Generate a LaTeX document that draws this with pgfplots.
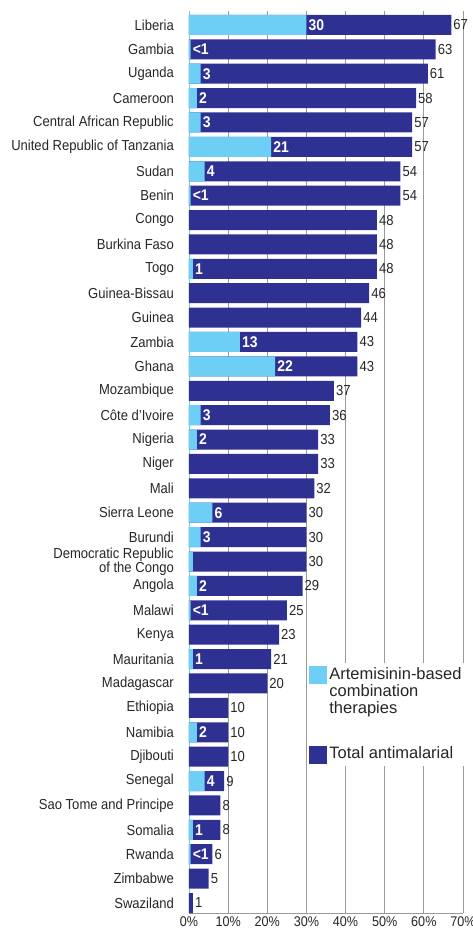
\documentclass[border=0pt]{standalone}
\usepackage{pgfplots}
\pgfplotsset{compat=1.18}
\usepackage{pgfplotstable}
\usepackage{fontspec}
\setmainfont{Liberation Sans}[FakeStretch=0.9]
\newfontfamily\legfont{Liberation Sans}

\definecolor{actblue}{HTML}{6DCFF6}
\definecolor{navy}{HTML}{2E3192}
\definecolor{txt}{HTML}{262626}
\definecolor{gridgray}{HTML}{9A9A9A}

\pgfplotsset{sqlegend/.style={legend image code/.code={\fill[##1] (0pt,-19pt) rectangle (18pt,-1pt);}}}

% pos = row (0 = top), total = all antimalarials, act = ACT share (%)
\pgfplotstableread{
pos total act
0 67 30
1 63 0.4
2 61 3
3 58 2
4 57 3
5 57 21
6 54 4
7 54 0.4
8 48 0
9 48 0
10 48 1
11 46 0
12 44 0
13 43 13
14 43 22
15 37 0
16 36 3
17 33 2
18 33 0
19 32 0
20 30 6
21 30 3
22 30 1
23 29 2
24 25 0.4
25 23 0
26 21 1
27 20 0
28 10 0
29 10 2
30 10 0
31 9 4
32 8 0
33 8 1
34 6 0.4
35 5 0
36 1 0
}\datatable

% printed ACT labels
\pgfplotstableread{
pos act lab
0 30 30
1 0.4 <1
2 3 3
3 2 2
4 3 3
5 21 21
6 4 4
7 0.4 <1
10 1 1
13 13 13
14 22 22
16 3 3
17 2 2
20 6 6
21 3 3
23 2 2
24 0.4 <1
26 1 1
29 2 2
31 4 4
33 1 1
34 0.4 <1
}\acttable

\begin{document}
\begin{tikzpicture}
\begin{axis}[
    scale only axis,
    width=274pt, height=902pt,
    xmin=0, xmax=70,
    ymin=-0.57, ymax=36.41,
    y dir=reverse,
    bar width=0.82,
    xtick={0,10,...,70},
    xticklabels={0\%,10\%,20\%,30\%,40\%,50\%,60\%,70\%},
    ytick={0,...,36},
    yticklabels={Liberia,Gambia,Uganda,Cameroon,Central African Republic,United Republic of Tanzania,Sudan,Benin,Congo,Burkina Faso,Togo,Guinea-Bissau,Guinea,Zambia,Ghana,Mozambique,Côte d’Ivoire,Nigeria,Niger,Mali,Sierra Leone,Burundi,{Democratic Republic\\of the Congo},Angola,Malawi,Kenya,Mauritania,Madagascar,Ethiopia,Namibia,Djibouti,Senegal,Sao Tome and Principe,Somalia,Rwanda,Zimbabwe,Swaziland},
    xmajorgrids,
    grid style={gridgray, line width=0.8pt},
    axis x line*=bottom, axis y line*=left,
    x axis line style={gridgray, line width=0.8pt},
    y axis line style={actblue, line width=0.8pt},
    major tick length=0pt,
    yticklabel style={font=\fontsize{14.5}{14}\selectfont, text=txt, align=right, inner sep=0pt, xshift=-15pt},
    xticklabel style={font=\fontsize{14}{14}\selectfont, text=txt},
    legend style={at={(axis cs:30.2,26.15)}, anchor=north west, draw=none, fill=white,
        inner sep=2pt, row sep=28pt,
        nodes={align=left, anchor=north west, inner sep=2pt, text=txt, font=\legfont\fontsize{16.5}{17}\selectfont}},
]
\addlegendimage{fill=actblue, draw=none, sqlegend}
\addlegendentry{Artemisinin-based\\combination\\therapies}
\addlegendimage{fill=navy, draw=none, sqlegend}
\addlegendentry{Total antimalarial}

\addplot[xbar, bar shift=0pt, fill=navy, draw=none, forget plot,
    nodes near coords, point meta=explicit symbolic,
    every node near coord/.style={text=txt, anchor=west, inner sep=2pt, font=\fontsize{14.5}{14}\selectfont}]
    table[x=total, y=pos, meta=total] {\datatable};
\addplot[xbar, bar shift=0pt, fill=actblue, draw=none, forget plot]
    table[x=act, y=pos] {\datatable};
\addplot[xbar, bar shift=0pt, fill=none, draw=none, forget plot,
    nodes near coords, point meta=explicit symbolic,
    every node near coord/.style={text=white, anchor=west, inner sep=2pt, font=\bfseries\fontsize{15.5}{15}\selectfont}]
    table[x=act, y=pos, meta=lab] {\acttable};
\end{axis}
\pgfresetboundingbox
\path (-189pt,-21pt) rectangle (283pt,913pt);
\end{tikzpicture}
\end{document}
